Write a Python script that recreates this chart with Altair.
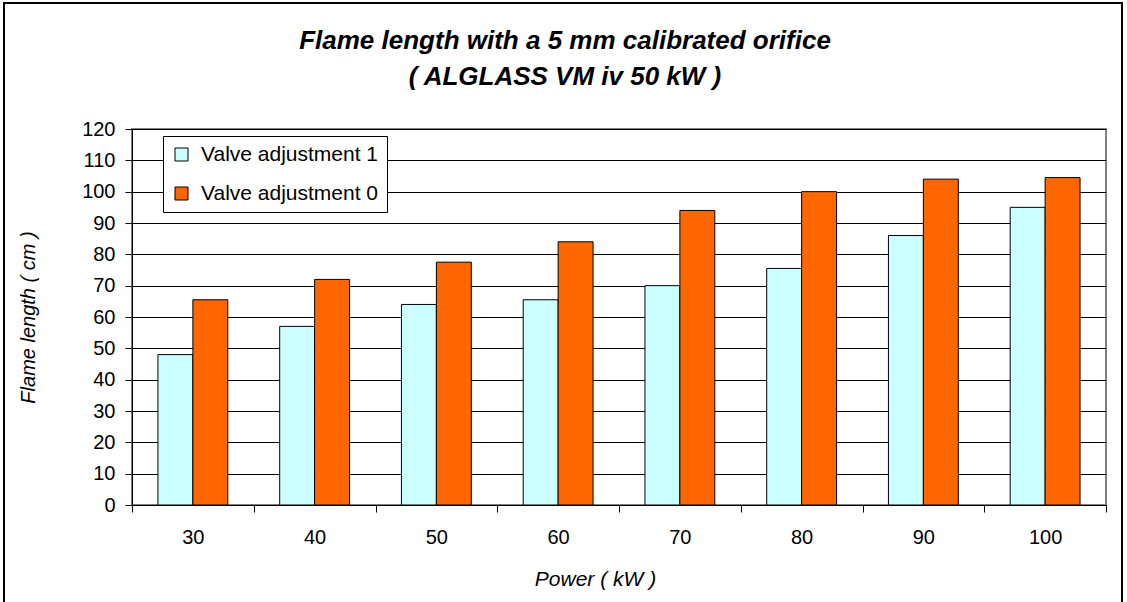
import altair as alt
import pandas as pd

power = ["30", "40", "50", "60", "70", "80", "90", "100"]
series_names = ["Valve adjustment 1", "Valve adjustment 0"]
adj1 = [48, 57, 64, 65.5, 70, 75.5, 86, 95]
adj0 = [65.5, 72, 77.5, 84, 94, 100, 104, 104.5]
colors = ["#CCFFFF", "#FF6600"]

rows = []
for p, a, b in zip(power, adj1, adj0):
    rows.append({"power": p, "series": series_names[0], "value": a})
    rows.append({"power": p, "series": series_names[1], "value": b})
df = pd.DataFrame(rows)

FONT = "Liberation Sans"

bars = alt.Chart(df).mark_bar(stroke="black", strokeWidth=1).encode(
    x=alt.X("power:N", sort=power,
            scale=alt.Scale(paddingInner=0, paddingOuter=0),
            axis=alt.Axis(title="Power ( kW )", labelAngle=0, tickBand="extent",
                          grid=False, domainColor="black", tickColor="black",
                          tickSize=7, labelPadding=15, labelFontSize=20,
                          titleFontSize=21, titleFontStyle="italic",
                          titleFontWeight="normal", titlePadding=21, titleX=463,
                          labelColor="black", titleColor="black")),
    xOffset=alt.XOffset("series:N", sort=series_names,
                        scale=alt.Scale(domain=series_names, paddingInner=0, paddingOuter=0.743)),
    y=alt.Y("value:Q",
            scale=alt.Scale(domain=[0, 120], nice=False),
            axis=alt.Axis(title="Flame length ( cm )", values=list(range(0, 121, 10)),
                          grid=True, gridColor="black", gridOpacity=1, gridWidth=1,
                          domainColor="black", tickColor="black", tickSize=7,
                          labelPadding=10, labelFontSize=20, titleFontSize=20,
                          titleFontStyle="italic", titleFontWeight="normal",
                          titlePadding=43, labelColor="black", titleColor="black")),
    color=alt.Color("series:N", sort=series_names,
                    scale=alt.Scale(domain=series_names, range=colors),
                    legend=alt.Legend(title=None, orient="none", legendX=31, legendY=7,
                                      fillColor="white", strokeColor="black",
                                      padding=8, rowPadding=17, symbolType="square",
                                      symbolSize=169, symbolStrokeColor="black",
                                      symbolStrokeWidth=1, labelFontSize=21,
                                      labelLimit=500,
                                      labelColor="black", labelOffset=9)),
)

frame = alt.Chart(pd.DataFrame({"a": [0]})).mark_rect(
    fill=None, stroke="black", strokeWidth=2
).encode(x=alt.value(-128), x2=alt.value(990), y=alt.value(-126), y2=alt.value(480))

chart = alt.layer(bars, frame).properties(
    width=974, height=376,
    autosize=alt.AutoSizeParams(type="none"),
    padding={"left": 132, "top": 129, "right": 21, "bottom": 97},
    title=alt.Title(["Flame length with a 5 mm calibrated orifice", "( ALGLASS VM iv 50 kW )"],
                    fontSize=26, fontStyle="italic", fontWeight="bold", font=FONT,
                    color="black", anchor="middle", dx=-54, offset=0, dy=88, lineHeight=36),
).configure(font=FONT).configure_view(stroke="#808080", strokeWidth=2)

chart.save("out.html", embed_options={"renderer": "svg", "actions": False})
